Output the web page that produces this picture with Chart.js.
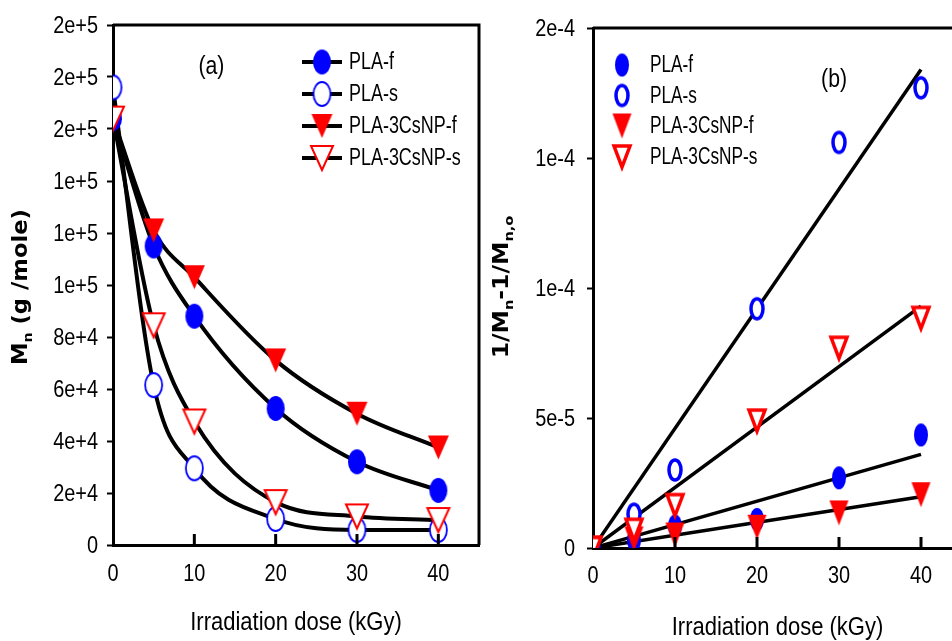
<!DOCTYPE html>
<html>
<head>
<meta charset="utf-8">
<script src="https://cdn.jsdelivr.net/npm/chart.js@4.4.1/dist/chart.umd.min.js"></script>
<style>
  html, body { margin: 0; padding: 0; background: #fff; }
  body { position: relative; width: 952px; height: 641px; overflow: hidden; }
  #panelA { position: absolute; left: 0; top: 0; width: 490px; height: 641px; }
  #panelB { position: absolute; left: 480px; top: 0; width: 500px; height: 641px; }
</style>
</head>
<body>
<div id="panelA"><canvas id="mnChart"></canvas></div>
<div id="panelB"><canvas id="invChart"></canvas></div>
<script>
const doses = [0, 5, 10, 20, 30, 40];
const xTicks = [0, 10, 20, 30, 40];
const xTickLabels = ["0", "10", "20", "30", "40"];
const seriesNames = ["PLA-f", "PLA-s", "PLA-3CsNP-f", "PLA-3CsNP-s"];

// Mn (g/mole) vs dose
const mnPlaF = [164000, 115000, 88000, 52500, 32000, 21000];
const mnPlaS = [176000, 61500, 29500, 10000, 5800, 5800];
const mnCsF = [164000, 121000, 103000, 71000, 50500, 37500];
const mnCsS = [164000, 84500, 47500, 16500, 11000, 9600];
const mnTickLabels = ["0", "2e+4", "4e+4", "6e+4", "8e+4", "1e+5", "1e+5", "1e+5", "2e+5", "2e+5", "2e+5"];

// 1/Mn - 1/Mn,0 vs dose
const invPlaF = [0, 3e-6, 8.5e-6, 1.1e-5, 2.7e-5, 4.35e-5];
const invPlaS = [0, 1.3e-5, 3.0e-5, 9.2e-5, 1.56e-4, 1.77e-4];
const invCsF = [0, 3.5e-6, 5e-6, 8e-6, 1.35e-5, 2.05e-5];
const invCsS = [0, 7e-6, 1.65e-5, 4.9e-5, 7.7e-5, 8.85e-5];
const invTickLabels = ["0", "5e-5", "1e-4", "1e-4", "2e-4"];

// linear fits, ends at 0 and 40 kGy
const fitDoses = [0, 40];
const fitPlaF = [0, 3.6e-5];
const fitPlaS = [0, 1.84e-4];
const fitCsF = [0, 1.97e-5];
const fitCsS = [0, 9.3e-5];

const BLUE = "#0000ff";
const RED = "#ff0000";
const SANS = "'Liberation Sans', Arial, sans-serif";

Chart.defaults.color = "#000";

function makeMarker(shape, filled, color, w, h, lw) {
  const pad = Math.ceil(lw) + 2;
  const c = document.createElement("canvas");
  c.width = w + pad * 2;
  c.height = h + pad * 2;
  const g = c.getContext("2d");
  g.beginPath();
  if (shape === "circle") {
    g.ellipse(c.width / 2, c.height / 2, w / 2, h / 2, 0, 0, Math.PI * 2);
  } else {
    g.moveTo(pad, pad);
    g.lineTo(pad + w, pad);
    g.lineTo(pad + w / 2, pad + h);
    g.closePath();
  }
  if (filled) {
    g.fillStyle = color;
    g.fill();
  } else {
    g.fillStyle = "#fff";
    g.fill();
    g.lineWidth = lw;
    g.strokeStyle = color;
    g.stroke();
  }
  return c;
}

const markersA = [
  makeMarker("circle", true, BLUE, 18, 25, 2),
  makeMarker("circle", false, BLUE, 17, 24, 1.8),
  makeMarker("tri", true, RED, 21, 24, 2),
  makeMarker("tri", false, RED, 22, 24, 2),
];
const markersB = [
  makeMarker("circle", true, BLUE, 14, 23, 3),
  makeMarker("circle", false, BLUE, 12, 20, 3.5),
  makeMarker("tri", true, RED, 19, 25, 3),
  makeMarker("tri", false, RED, 16, 21, 3.5),
];

const pts = (xs, ys) => xs.map((x, i) => ({ x, y: ys[i] }));

// condensed text: regular sans squeezed horizontally
function narrowText(ctx, text, x, y, size, squeeze, align) {
  ctx.save();
  ctx.translate(x, y);
  ctx.scale(squeeze, 1);
  ctx.font = size + "px " + SANS;
  ctx.textAlign = align;
  ctx.textBaseline = "middle";
  ctx.fillStyle = "#000";
  ctx.fillText(text, 0, 0);
  ctx.restore();
}

// frame, inward x ticks, labels, legend and rotated y title
const decor = {
  id: "decor",
  afterDraw(chart, args, o) {
    const { ctx, chartArea: a, scales } = chart;
    ctx.save();
    ctx.strokeStyle = "#000";
    ctx.lineWidth = 3;
    ctx.beginPath();
    ctx.moveTo(a.left, a.top);
    ctx.lineTo(a.right, a.top);
    ctx.lineTo(a.right, a.bottom);
    ctx.stroke();

    xTicks.slice(1).forEach(v => {
      const px = scales.x.getPixelForValue(v);
      ctx.beginPath();
      ctx.moveTo(px, a.bottom);
      ctx.lineTo(px, a.bottom - 11);
      ctx.stroke();
    });

    // tick labels
    scales.y.ticks.forEach((t, i) => {
      narrowText(ctx, o.yLabels[i], a.left - o.yLabelGap, scales.y.getPixelForValue(t.value) + 1, 24, 0.83, "right");
    });
    xTicks.forEach((v, i) => {
      narrowText(ctx, xTickLabels[i], scales.x.getPixelForValue(v), o.xLabelY, 24, 0.83, "center");
    });
    narrowText(ctx, "Irradiation dose (kGy)", (a.left + a.right) / 2, o.xTitleY, 25, 0.88, "center");

    narrowText(ctx, o.letter.text, scales.x.getPixelForValue(o.letter.x), scales.y.getPixelForValue(o.letter.y), 25, 0.85, "center");

    const lg = o.legend;
    seriesNames.forEach((name, i) => {
      const y = lg.top + i * lg.gap;
      if (lg.line) {
        ctx.lineWidth = 4;
        ctx.beginPath();
        ctx.moveTo(lg.x - 20, y);
        ctx.lineTo(lg.x + 20, y);
        ctx.stroke();
      }
      const m = o.markers[i];
      ctx.drawImage(m, lg.x - m.width / 2, y - m.height / 2);
      narrowText(ctx, name, lg.textX, y + 1, lg.size, lg.squeeze, "left");
    });

    const t = o.yTitle;
    const big = "bold " + t.size + "px 'DejaVu Sans', sans-serif";
    const small = "bold " + Math.round(t.size * 0.62) + "px 'DejaVu Sans', sans-serif";
    let total = 0;
    t.parts.forEach(p => { ctx.font = p.sub ? small : big; total += ctx.measureText(p.text).width; });
    ctx.translate(t.x, t.y);
    ctx.rotate(-Math.PI / 2);
    ctx.scale(t.stretch, 1);
    ctx.fillStyle = "#000";
    ctx.textAlign = "left";
    ctx.textBaseline = "alphabetic";
    let cx = -total / 2;
    t.parts.forEach(p => {
      ctx.font = p.sub ? small : big;
      ctx.fillText(p.text, cx, p.sub ? 5 : 0);
      cx += ctx.measureText(p.text).width;
    });
    ctx.restore();
  }
};

function xScale(axisHeight) {
  return {
    type: "linear",
    min: 0,
    max: 45,
    afterBuildTicks: s => { s.ticks = xTicks.map(v => ({ value: v })); },
    afterFit: s => { s.height = axisHeight; },
    grid: { display: false, drawTicks: false },
    border: { display: true, color: "#000", width: 3 },
    ticks: { display: false }
  };
}

function yScale(max, step) {
  return {
    min: 0,
    max: max,
    afterFit: s => { s.width = 113; },
    grid: { display: true, drawOnChartArea: false, drawTicks: true, tickLength: 6, tickWidth: 2, tickColor: "#000" },
    border: { display: true, color: "#000", width: 3 },
    ticks: { stepSize: step, display: false }
  };
}

const mnSeries = [mnPlaF, mnPlaS, mnCsF, mnCsS];
const mnData = [];
mnSeries.forEach(vals => {
  mnData.push({
    data: pts(doses, vals), showLine: true, borderColor: "#000", borderWidth: 4,
    pointRadius: 0, cubicInterpolationMode: "monotone", order: 10
  });
});
mnSeries.forEach((vals, i) => {
  mnData.push({
    label: seriesNames[i], data: pts(doses, vals), showLine: false,
    pointStyle: markersA[i], pointRadius: 10, order: 4 - i
  });
});

new Chart(document.getElementById("mnChart"), {
  type: "scatter",
  data: { datasets: mnData },
  options: {
    responsive: true,
    maintainAspectRatio: false,
    animation: false,
    layout: { padding: { top: 25, right: 5, left: 0, bottom: 0 } },
    scales: { x: xScale(96), y: yScale(200000, 20000) },
    plugins: {
      legend: { display: false },
      tooltip: { enabled: false },
      decor: {
        markers: markersA,
        yLabels: mnTickLabels,
        yLabelGap: 15,
        xLabelY: 574,
        xTitleY: 623,
        letter: { text: "(a)", x: 12.1, y: 183800 },
        legend: { x: 322, top: 62, gap: 32, line: true, textX: 349, size: 23, squeeze: 0.78 },
        yTitle: { x: 27, y: 287, size: 21, stretch: 1.08, parts: [{ text: "M" }, { text: "n", sub: true }, { text: " (g /mole)" }] }
      }
    }
  },
  plugins: [decor]
});

const invSeries = [invPlaF, invPlaS, invCsF, invCsS];
const fitSeries = [fitPlaF, fitPlaS, fitCsF, fitCsS];
const invData = [];
fitSeries.forEach(vals => {
  invData.push({
    data: pts(fitDoses, vals), showLine: true, borderColor: "#000", borderWidth: 3.5,
    pointRadius: 0, order: 10
  });
});
invSeries.forEach((vals, i) => {
  invData.push({
    label: seriesNames[i], data: pts(doses, vals), showLine: false,
    pointStyle: markersB[i], pointRadius: 10, order: 4 - i
  });
});

new Chart(document.getElementById("invChart"), {
  type: "scatter",
  data: { datasets: invData },
  options: {
    responsive: true,
    maintainAspectRatio: false,
    animation: false,
    layout: { padding: { top: 28, right: 18, left: 0, bottom: 0 } },
    scales: { x: xScale(93), y: yScale(2e-4, 5e-5) },
    plugins: {
      legend: { display: false },
      tooltip: { enabled: false },
      decor: {
        markers: markersB,
        yLabels: invTickLabels,
        yLabelGap: 18,
        xLabelY: 576,
        xTitleY: 628,
        letter: { text: "(b)", x: 29.4, y: 1.8e-4 },
        legend: { x: 142, top: 65, gap: 30.5, line: false, textX: 170, size: 23, squeeze: 0.75 },
        yTitle: { x: 28, y: 287, size: 21, stretch: 1.12, parts: [{ text: "1/M" }, { text: "n", sub: true }, { text: "-1/M" }, { text: "n,o", sub: true }] }
      }
    }
  },
  plugins: [decor]
});
</script>
</body>
</html>
